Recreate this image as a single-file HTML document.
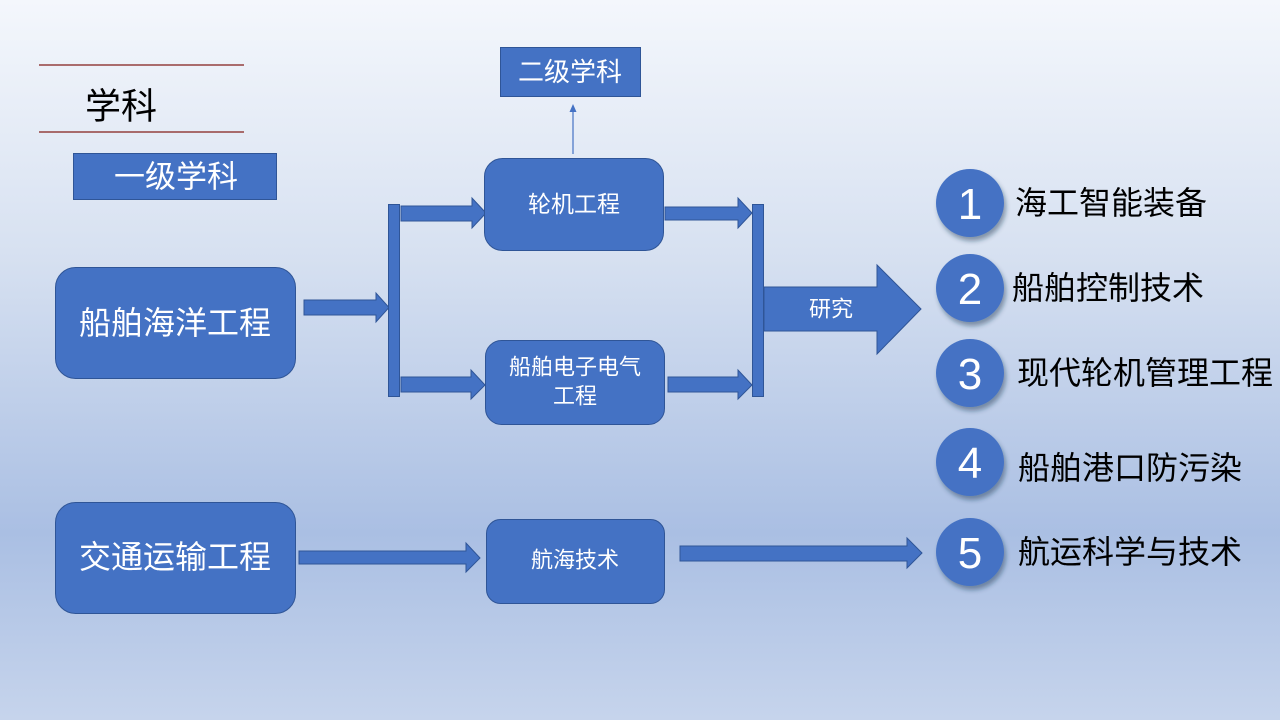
<!DOCTYPE html>
<html>
<head>
<meta charset="utf-8">
<style>
  html, body { margin: 0; padding: 0; }
  body { width: 1280px; height: 720px; overflow: hidden; }
  svg { display: block; }
  text { font-family: "Liberation Sans", "Noto Sans CJK SC", sans-serif; }
</style>
</head>
<body>
<svg width="1280" height="720" viewBox="0 0 1280 720" xmlns="http://www.w3.org/2000/svg">
  <defs>
    <linearGradient id="bg" x1="0" y1="0" x2="0" y2="1">
      <stop offset="0" stop-color="#f4f7fc"/>
      <stop offset="0.35" stop-color="#d7e1f1"/>
      <stop offset="0.74" stop-color="#aabfe3"/>
      <stop offset="1" stop-color="#c6d4ec"/>
    </linearGradient>
    <filter id="sh" x="-30%" y="-30%" width="170%" height="170%">
      <feDropShadow dx="2" dy="4" stdDeviation="2.5" flood-color="#1f3050" flood-opacity="0.45"/>
    </filter>
  </defs>
  <rect x="0" y="0" width="1280" height="720" fill="url(#bg)"/>

  <!-- title lines -->
  <line x1="39" y1="65" x2="244" y2="65" stroke="#93403f" stroke-width="1.5"/>
  <line x1="39" y1="132" x2="244" y2="132" stroke="#93403f" stroke-width="1.5"/>
  <text x="121" y="106" font-size="36" fill="#000" text-anchor="middle" dominant-baseline="central">学科</text>

  <!-- 一级学科 -->
  <rect x="73.5" y="153.5" width="203" height="46" fill="#4472c4" stroke="#2f5597" stroke-width="1"/>
  <text x="176" y="177" font-size="31" fill="#fff" text-anchor="middle" dominant-baseline="central">一级学科</text>

  <!-- 二级学科 -->
  <rect x="500.5" y="47.5" width="140" height="49" fill="#4472c4" stroke="#2f5597" stroke-width="1"/>
  <text x="570" y="72" font-size="26" fill="#fff" text-anchor="middle" dominant-baseline="central">二级学科</text>
  <!-- thin arrow -->
  <line x1="573" y1="154" x2="573" y2="111" stroke="#4472c4" stroke-width="1.2"/>
  <polygon points="573,104 569.5,112 576.5,112" fill="#4472c4"/>

  <!-- 船舶海洋工程 -->
  <rect x="55.5" y="267.5" width="240" height="111" rx="20" fill="#4472c4" stroke="#2f5597" stroke-width="1"/>
  <text x="175" y="323" font-size="32" fill="#fff" text-anchor="middle" dominant-baseline="central">船舶海洋工程</text>

  <!-- arrow to left bar -->
  <polygon points="304,300 376,300 376,293 389,307.5 376,322 376,315 304,315" fill="#4472c4" stroke="#2f5597" stroke-width="1"/>
  <!-- left bar -->
  <rect x="388.5" y="204.5" width="11" height="192" fill="#4472c4" stroke="#2f5597" stroke-width="1"/>
  <!-- arrows from left bar -->
  <polygon points="401,206 472,206 472,198 486,213 472,228 472,221 401,221" fill="#4472c4" stroke="#2f5597" stroke-width="1"/>
  <polygon points="401,377 471,377 471,370 485,385 471,399 471,392 401,392" fill="#4472c4" stroke="#2f5597" stroke-width="1"/>

  <!-- 轮机工程 -->
  <rect x="484.5" y="158.5" width="179" height="92" rx="18" fill="#4472c4" stroke="#2f5597" stroke-width="1"/>
  <text x="574" y="204" font-size="23" fill="#fff" text-anchor="middle" dominant-baseline="central">轮机工程</text>

  <!-- 船舶电子电气工程 -->
  <rect x="485.5" y="340.5" width="179" height="84" rx="16" fill="#4472c4" stroke="#2f5597" stroke-width="1"/>
  <text x="575" y="367" font-size="22" fill="#fff" text-anchor="middle" dominant-baseline="central">船舶电子电气</text>
  <text x="575" y="396" font-size="22" fill="#fff" text-anchor="middle" dominant-baseline="central">工程</text>

  <!-- arrows to right bar -->
  <polygon points="665,207 738,207 738,198 752,213 738,228 738,220 665,220" fill="#4472c4" stroke="#2f5597" stroke-width="1"/>
  <polygon points="668,377 738,377 738,370 752,385 738,399 738,392 668,392" fill="#4472c4" stroke="#2f5597" stroke-width="1"/>
  <!-- right bar -->
  <rect x="752.5" y="204.5" width="11" height="192" fill="#4472c4" stroke="#2f5597" stroke-width="1"/>

  <!-- 研究 big arrow -->
  <polygon points="764,287 877,287 877,265 921,309 877,354 877,331 764,331" fill="#4472c4" stroke="#2f5597" stroke-width="1"/>
  <text x="831" y="309" font-size="22" fill="#fff" text-anchor="middle" dominant-baseline="central">研究</text>

  <!-- 交通运输工程 -->
  <rect x="55.5" y="502.5" width="240" height="111" rx="20" fill="#4472c4" stroke="#2f5597" stroke-width="1"/>
  <text x="175" y="557" font-size="32" fill="#fff" text-anchor="middle" dominant-baseline="central">交通运输工程</text>
  <polygon points="299,551 466,551 466,543 480,558 466,572 466,564 299,564" fill="#4472c4" stroke="#2f5597" stroke-width="1"/>

  <!-- 航海技术 -->
  <rect x="486.5" y="519.5" width="178" height="84" rx="14" fill="#4472c4" stroke="#2f5597" stroke-width="1"/>
  <text x="575" y="560" font-size="22" fill="#fff" text-anchor="middle" dominant-baseline="central">航海技术</text>
  <polygon points="680,546 907,546 907,538 922,553 907,568 907,561 680,561" fill="#4472c4" stroke="#2f5597" stroke-width="1"/>

  <!-- numbered circles -->
  <g filter="url(#sh)" fill="#4472c4">
    <circle cx="970" cy="203" r="34"/>
    <circle cx="970" cy="288" r="34"/>
    <circle cx="970" cy="373" r="34"/>
    <circle cx="970" cy="462" r="34"/>
    <circle cx="970" cy="552" r="34"/>
  </g>
  <g font-size="44" fill="#fff" text-anchor="middle">
    <text x="970" y="219">1</text>
    <text x="970" y="304">2</text>
    <text x="970" y="389">3</text>
    <text x="970" y="478">4</text>
    <text x="970" y="568">5</text>
  </g>
  <g font-size="32" fill="#000" dominant-baseline="central">
    <text x="1015" y="203">海工智能装备</text>
    <text x="1012" y="288">船舶控制技术</text>
    <text x="1017" y="373">现代轮机管理工程</text>
    <text x="1018" y="468">船舶港口防污染</text>
    <text x="1018" y="552">航运科学与技术</text>
  </g>
</svg>
</body>
</html>
